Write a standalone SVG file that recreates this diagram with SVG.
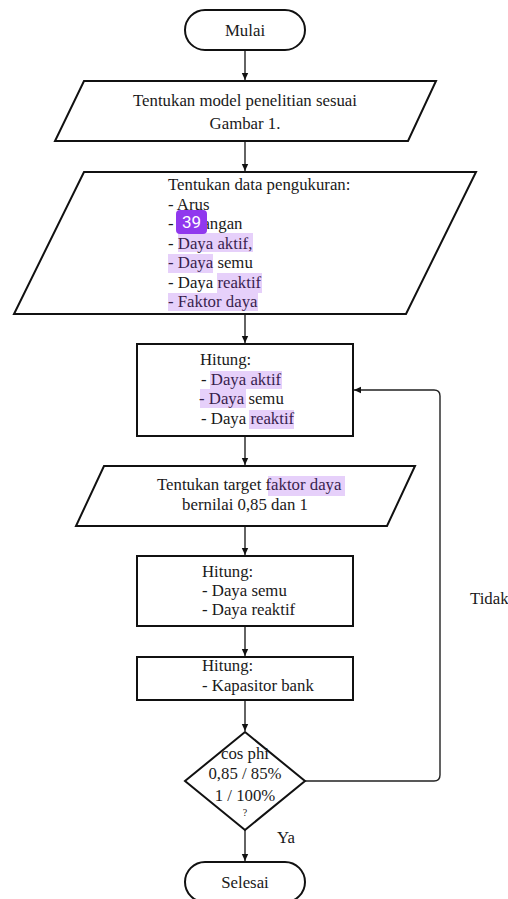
<svg xmlns="http://www.w3.org/2000/svg" width="508" height="899" viewBox="0 0 508 899">
<style>
.s{fill:#fff;stroke:#111;stroke-width:2}
.t{font-family:"Liberation Serif","Times New Roman",serif;font-size:16.8px;fill:#1a1a1a}
.c{text-anchor:middle}
.hl{fill:rgb(147,51,234);fill-opacity:0.23}
.ln{fill:none;stroke:#222;stroke-width:1.4}
</style>
<defs>
<marker id="ah" markerWidth="8" markerHeight="8" refX="7" refY="4" orient="auto" markerUnits="userSpaceOnUse">
<path d="M0,0.8 L7,4 L0,7.2 Z" fill="#111"/>
</marker>
</defs>
<rect width="508" height="899" fill="#fff"/>
<g id="connectors">
<line class="ln" x1="245" y1="50" x2="245" y2="80" marker-end="url(#ah)"/>
<line class="ln" x1="245" y1="141" x2="245" y2="171" marker-end="url(#ah)"/>
<line class="ln" x1="245" y1="314" x2="245" y2="343" marker-end="url(#ah)"/>
<line class="ln" x1="245" y1="436" x2="245" y2="465" marker-end="url(#ah)"/>
<line class="ln" x1="245" y1="526" x2="245" y2="555" marker-end="url(#ah)"/>
<line class="ln" x1="245" y1="626" x2="245" y2="656" marker-end="url(#ah)"/>
<line class="ln" x1="245" y1="700" x2="245" y2="731" marker-end="url(#ah)"/>
<line class="ln" x1="245" y1="830" x2="245" y2="861" marker-end="url(#ah)"/>
<path class="ln" d="M305,781 H434 Q440,781 440,775 V396 Q440,390 434,390 H354" marker-end="url(#ah)"/>
<text class="t" x="470" y="604">Tidak</text>
<text class="t" x="277" y="843">Ya</text>
</g>
<g id="mulai">
<rect class="s" x="185" y="10" width="120" height="40" rx="20"/>
<text class="t c" x="245" y="36">Mulai</text>
</g>
<g id="model">
<polygon class="s" points="84,81 436,81 408,141 55,141"/>
<text class="t c" x="245" y="106">Tentukan model penelitian sesuai</text>
<text class="t c" x="245" y="129">Gambar 1.</text>
</g>
<g id="data">
<polygon class="s" points="84,172 476,172 406,314 14,314"/>
<text class="t" x="168" y="190">Tentukan data pengukuran:</text>
<text class="t" x="168" y="209.5">- Arus</text>
<text class="t" x="168" y="229">- Tegangan</text>
<text class="t" x="168" y="248.5">- Daya aktif,</text>
<text class="t" x="168" y="268">- Daya semu</text>
<text class="t" x="168" y="287.5">- Daya reaktif</text>
<text class="t" x="168" y="307">- Faktor daya</text>
<rect class="hl" x="178" y="233" width="75" height="19"/>
<rect class="hl" x="168" y="254" width="45" height="19"/>
<rect class="hl" x="217" y="273" width="45" height="20"/>
<rect class="hl" x="168" y="293" width="90" height="18"/>
<rect x="176" y="210" width="31" height="24" rx="4" fill="#9038ee"/>
<text x="191.5" y="228" text-anchor="middle" font-family="Roboto,'Noto Sans',sans-serif" font-size="17" fill="#fff">39</text>
</g>
<g id="hitung1">
<rect class="s" x="137" y="344" width="216" height="92"/>
<text class="t" x="200" y="365">Hitung:</text>
<text class="t" x="201" y="385">- Daya aktif</text>
<text class="t" x="199" y="404">- Daya semu</text>
<text class="t" x="201" y="424">- Daya reaktif</text>
<rect class="hl" x="210" y="371" width="72" height="18"/>
<rect class="hl" x="200" y="389" width="46" height="19"/>
<rect class="hl" x="249" y="410" width="45" height="19"/>
</g>
<g id="target">
<polygon class="s" points="104,466 415,466 387,526 76,526"/>
<text class="t" x="157" y="490">Tentukan target faktor daya</text>
<text class="t c" x="245" y="510">bernilai 0,85 dan 1</text>
<rect class="hl" x="268" y="476" width="77" height="20"/>
</g>
<g id="hitung2">
<rect class="s" x="137" y="556" width="216" height="70"/>
<text class="t" x="202" y="577">Hitung:</text>
<text class="t" x="202" y="596">- Daya semu</text>
<text class="t" x="202" y="615">- Daya reaktif</text>
</g>
<g id="hitung3">
<rect class="s" x="137" y="657" width="216" height="43"/>
<text class="t" x="202" y="671">Hitung:</text>
<text class="t" x="202" y="691">- Kapasitor bank</text>
</g>
<g id="keputusan">
<polygon class="s" points="245,732 305,781 245,830 185,781"/>
<text class="t c" x="245" y="759">cos phi</text>
<text class="t c" x="245" y="779">0,85 / 85%</text>
<text class="t c" x="245" y="801">1 / 100%</text>
<text class="t c" x="245" y="816" style="font-size:10px">?</text>
</g>
<g id="selesai">
<rect class="s" x="185" y="862" width="120" height="40" rx="20"/>
<text class="t c" x="245" y="888">Selesai</text>
</g>
</svg>
